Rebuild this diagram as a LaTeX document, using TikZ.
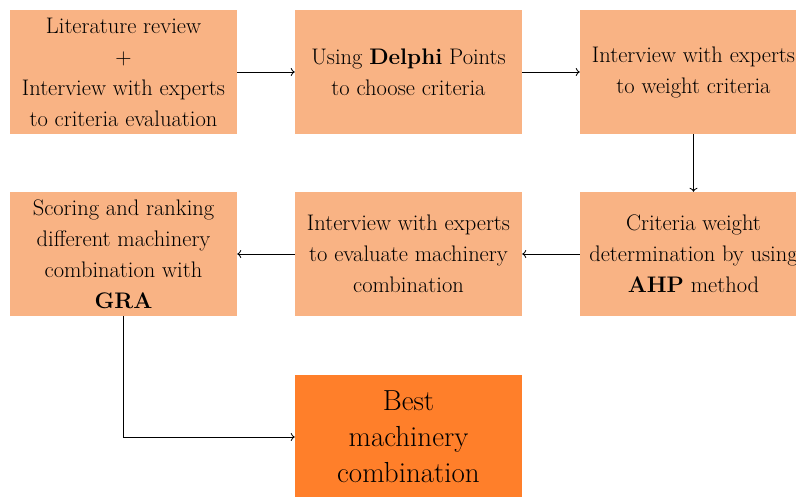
\documentclass[tikz,border=0pt]{standalone}
\usepackage{fontspec}
\usetikzlibrary{positioning,arrows.meta}

\definecolor{lightorange}{HTML}{F9B384}
\definecolor{darkorange}{HTML}{FF7F2A}

\begin{document}
\begin{tikzpicture}[x=1pt, y=-1pt,
  box/.style={rectangle, fill=lightorange, minimum width=227pt, minimum height=124pt,
    inner sep=0pt, align=center, font=\fontsize{22.5}{31}\selectfont},
  bestbox/.style={box, fill=darkorange, font=\fontsize{29}{36}\selectfont},
  link/.style={-{To[length=4pt, width=8pt]}, line width=0.8pt}]
\useasboundingbox (0,0) rectangle (796,496);
\clip (0,0) rectangle (796,496);

\def\xa{123.5}
\def\xb{408.5}
\def\xc{693.5}

\def\ya{72}
\def\yb{254}
\def\yc{437}

\node[box] (review) at (\xa, \ya) {Literature review\\+\\Interview with experts\\to criteria evaluation};
\node[box] (delphi) at (\xb, \ya) {Using \textbf{Delphi} Points\\to choose criteria};
\node[box] (weight) at (\xc, \ya) {Interview with experts\\to weight criteria};
\node[box] (ahp) at (\xc, \yb) {Criteria weight\\determination by using\\\textbf{AHP} method};
\node[box] (evaluate) at (\xb, \yb) {Interview with experts\\to evaluate machinery\\combination};
\node[box] (gra) at (\xa, \yb) {Scoring and ranking\\different machinery\\combination with\\\textbf{GRA}};
\node[bestbox] (best) at (\xb, \yc) {Best\\machinery\\combination};

\draw[link] (review) -- (delphi);
\draw[link] (delphi) -- (weight);
\draw[link] (weight) -- (ahp);
\draw[link] (ahp) -- (evaluate);
\draw[link] (evaluate) -- (gra);
\draw[link] (gra.south) |- (best.west);
\end{tikzpicture}
\end{document}
